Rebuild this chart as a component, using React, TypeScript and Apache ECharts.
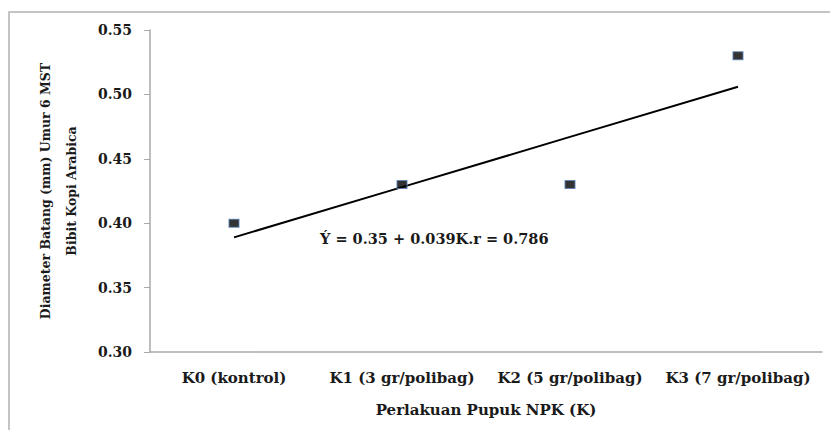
import React, { useEffect, useRef } from "react";
import * as echarts from "echarts";

const categories = ["K0 (kontrol)", "K1 (3 gr/polibag)", "K2 (5 gr/polibag)", "K3 (7 gr/polibag)"];
const diameterValues = [0.40, 0.43, 0.43, 0.53];
const trendValues = [0.389, 0.428, 0.467, 0.506];
const yTicks = { min: 0.30, max: 0.55, interval: 0.05 };
const yAxisName = "Diameter Batang (mm) Umur 6 MST\nBibit Kopi Arabica";
const xAxisName = "Perlakuan Pupuk NPK (K)";
const equationText = "Ý = 0.35 + 0.039K.r = 0.786";

const FONT = "'DejaVu Serif', 'Liberation Serif', serif";

export default function App() {
  const ref = useRef<HTMLDivElement>(null);
  useEffect(() => {
    const chart = echarts.init(ref.current!, null, { renderer: "svg" });
    chart.setOption({
      animation: false,
      backgroundColor: "#ffffff",
      grid: { left: 150, right: 8, top: 30, bottom: 78 },
      xAxis: {
        type: "category",
        data: categories,
        boundaryGap: true,
        axisLine: { lineStyle: { color: "#a8a8a8", width: 1.5 } },
        axisTick: { alignWithLabel: true, length: 3, lineStyle: { color: "#888" } },
        axisLabel: {
          interval: 0,
          hideOverlap: false,
          fontFamily: FONT, fontWeight: "bold", fontSize: 15, color: "#1a1a1a", margin: 18,
        },
        name: xAxisName,
        nameLocation: "middle",
        nameGap: 50,
        nameTextStyle: { fontFamily: FONT, fontWeight: "bold", fontSize: 15, color: "#1a1a1a" },
      },
      yAxis: {
        type: "value",
        min: yTicks.min,
        max: yTicks.max,
        interval: yTicks.interval,
        splitLine: { show: false },
        axisLine: { show: true, lineStyle: { color: "#a8a8a8", width: 1.5 } },
        axisTick: { show: true, length: 6, lineStyle: { color: "#a8a8a8" } },
        axisLabel: {
          fontFamily: FONT, fontWeight: "bold", fontSize: 14, color: "#1a1a1a", margin: 18,
          formatter: (v: number) => v.toFixed(2),
        },
        name: yAxisName,
        nameLocation: "middle",
        nameRotate: 90,
        nameGap: 66,
        nameTextStyle: {
          fontFamily: FONT, fontWeight: "bold", fontSize: 12.5, color: "#1a1a1a", lineHeight: 26,
        },
      },
      series: [
        {
          type: "line",
          data: trendValues,
          symbol: "none",
          lineStyle: { color: "#000", width: 2 },
          z: 2,
        },
        {
          type: "scatter",
          data: diameterValues,
          symbol: "rect",
          symbolSize: [10, 8],
          itemStyle: { color: "#000", borderColor: "#5a7fb5", borderWidth: 1 },
          z: 3,
        },
      ],
      graphic: [
        {
          type: "rect",
          shape: { x: 9, y: 12, width: 900, height: 600 },
          style: { fill: "none", stroke: "#c4c4c4", lineWidth: 2 },
          silent: true,
        },
        {
          type: "text",
          x: 320,
          y: 238,
          style: {
            text: equationText,
            fontFamily: FONT,
            fontWeight: "bold",
            fontSize: 14.5,
            fill: "#1a1a1a",
            verticalAlign: "middle",
            align: "left",
          },
        },
      ],
    });
    return () => chart.dispose();
  }, []);
  return (
    <div
      ref={ref}
      style={{ position: "absolute", left: 0, top: 0, width: 830, height: 430 }}
    />
  );
}
